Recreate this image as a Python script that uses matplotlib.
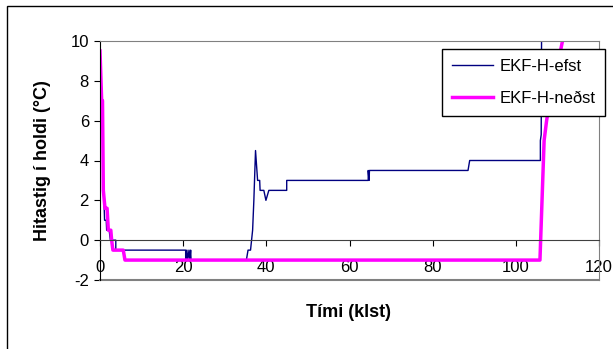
import numpy as np
import matplotlib
matplotlib.use('Agg')
import matplotlib.pyplot as plt
from matplotlib.patches import Rectangle

plt.rcParams['font.family'] = ['Liberation Sans', 'DejaVu Sans']
plt.rcParams['axes.unicode_minus'] = False

# ------------------------------------------------ DATE ------------------------------------------------

# EKF-H-efst (albastru)
efst_x = [0, 0.3, 0.6, 0.8, 1.1, 1.5, 1.6, 2.2, 2.5, 3.8, 3.8, 20.6, 20.6, 20.9, 21.1, 21.4, 21.6,
          21.8, 21.9, 35.2, 35.6, 36.2, 36.7, 37.0, 37.4, 37.9, 38.4, 38.5, 39.4, 39.9, 40.6, 44.9,
          44.9, 64.5, 64.5, 64.7, 64.8, 88.5, 88.9, 105.9, 105.9, 106.1, 106.2]
efst_y = [9.5, 7, 7, 3, 1.0, 1.0, 0.5, 0.5, 0, 0, -0.5, -0.5, -1, -0.5, -1, -0.5, -1,
          -0.5, -1, -1, -0.5, -0.5, 0.5, 2, 4.5, 3, 3, 2.5, 2.5, 2.0, 2.5, 2.5,
          3.0, 3.0, 3.5, 3.0, 3.5, 3.5, 4.0, 4.0, 5.0, 5.3, 11]

# EKF-H-nedst (magenta)
nedst_x = [0, 0.4, 0.6, 0.8, 1.2, 1.7, 2.0, 2.6, 2.8, 3.1, 5.6, 6.0, 105.8, 106.8, 107.4, 107.7, 112.2]
nedst_y = [9.5, 7, 7, 2.5, 1.6, 1.6, 0.5, 0.5, 0.0, -0.5, -0.5, -1, -1, 5, 6.0, 6.4, 11]

x_ticks = [0, 20, 40, 60, 80, 100, 120]
y_ticks = [-2, 0, 2, 4, 6, 8, 10]

# ------------------------------------------------ GRAFIC ----------------------------------------------

fig = plt.figure(figsize=(6.13, 3.49), dpi=100)
ax = fig.add_axes([100 / 613, 1 - 280 / 349, 499 / 613, 239 / 349])

# chenarul exterior
fig.patches.append(Rectangle((7 / 613, -0.1), 1.2, 1 - 6 / 349 + 0.1, transform=fig.transFigure,
                             fill=False, edgecolor='black', linewidth=1))

ax.plot(efst_x, efst_y, color='#000080', linewidth=1, label='EKF-H-efst')
ax.plot(nedst_x, nedst_y, color='#FF00FF', linewidth=2.5, label='EKF-H-neðst')

ax.set_xlim(0, 120)
ax.set_ylim(-2, 10)

# axa Ox trece prin 0
ax.spines['bottom'].set_position(('data', 0))
ax.spines['bottom'].set_color('#404040')
ax.spines['left'].set_color('black')
ax.spines['top'].set_color('#808080')
ax.spines['right'].set_color('#808080')
ax.axhline(-2, color='#808080', linewidth=1.5, clip_on=False)

ax.set_xticks(x_ticks)
ax.set_yticks(y_ticks)
ax.tick_params(axis='x', direction='out', length=4, pad=10, labelsize=12)
ax.tick_params(axis='y', direction='out', length=4, pad=4, labelsize=12)

ax.set_xlabel('Tími (klst)', fontsize=13, fontweight='bold')
ax.xaxis.set_label_coords(248 / 499, (280 - 304) / 239)
ax.set_ylabel('Hitastig í holdi (°C)', fontsize=13, fontweight='bold')
ax.yaxis.set_label_coords((51 - 100) / 499, 0.5)

leg = ax.legend(loc='upper left', bbox_to_anchor=(0.685, 0.967), fontsize=12, handlelength=2.5,
                handletextpad=0.35, frameon=True, fancybox=False, framealpha=1, edgecolor='black',
                borderaxespad=0, borderpad=0.6, labelspacing=1.0)
leg.get_frame().set_linewidth(1)

fig.savefig('out.png', dpi=100)
